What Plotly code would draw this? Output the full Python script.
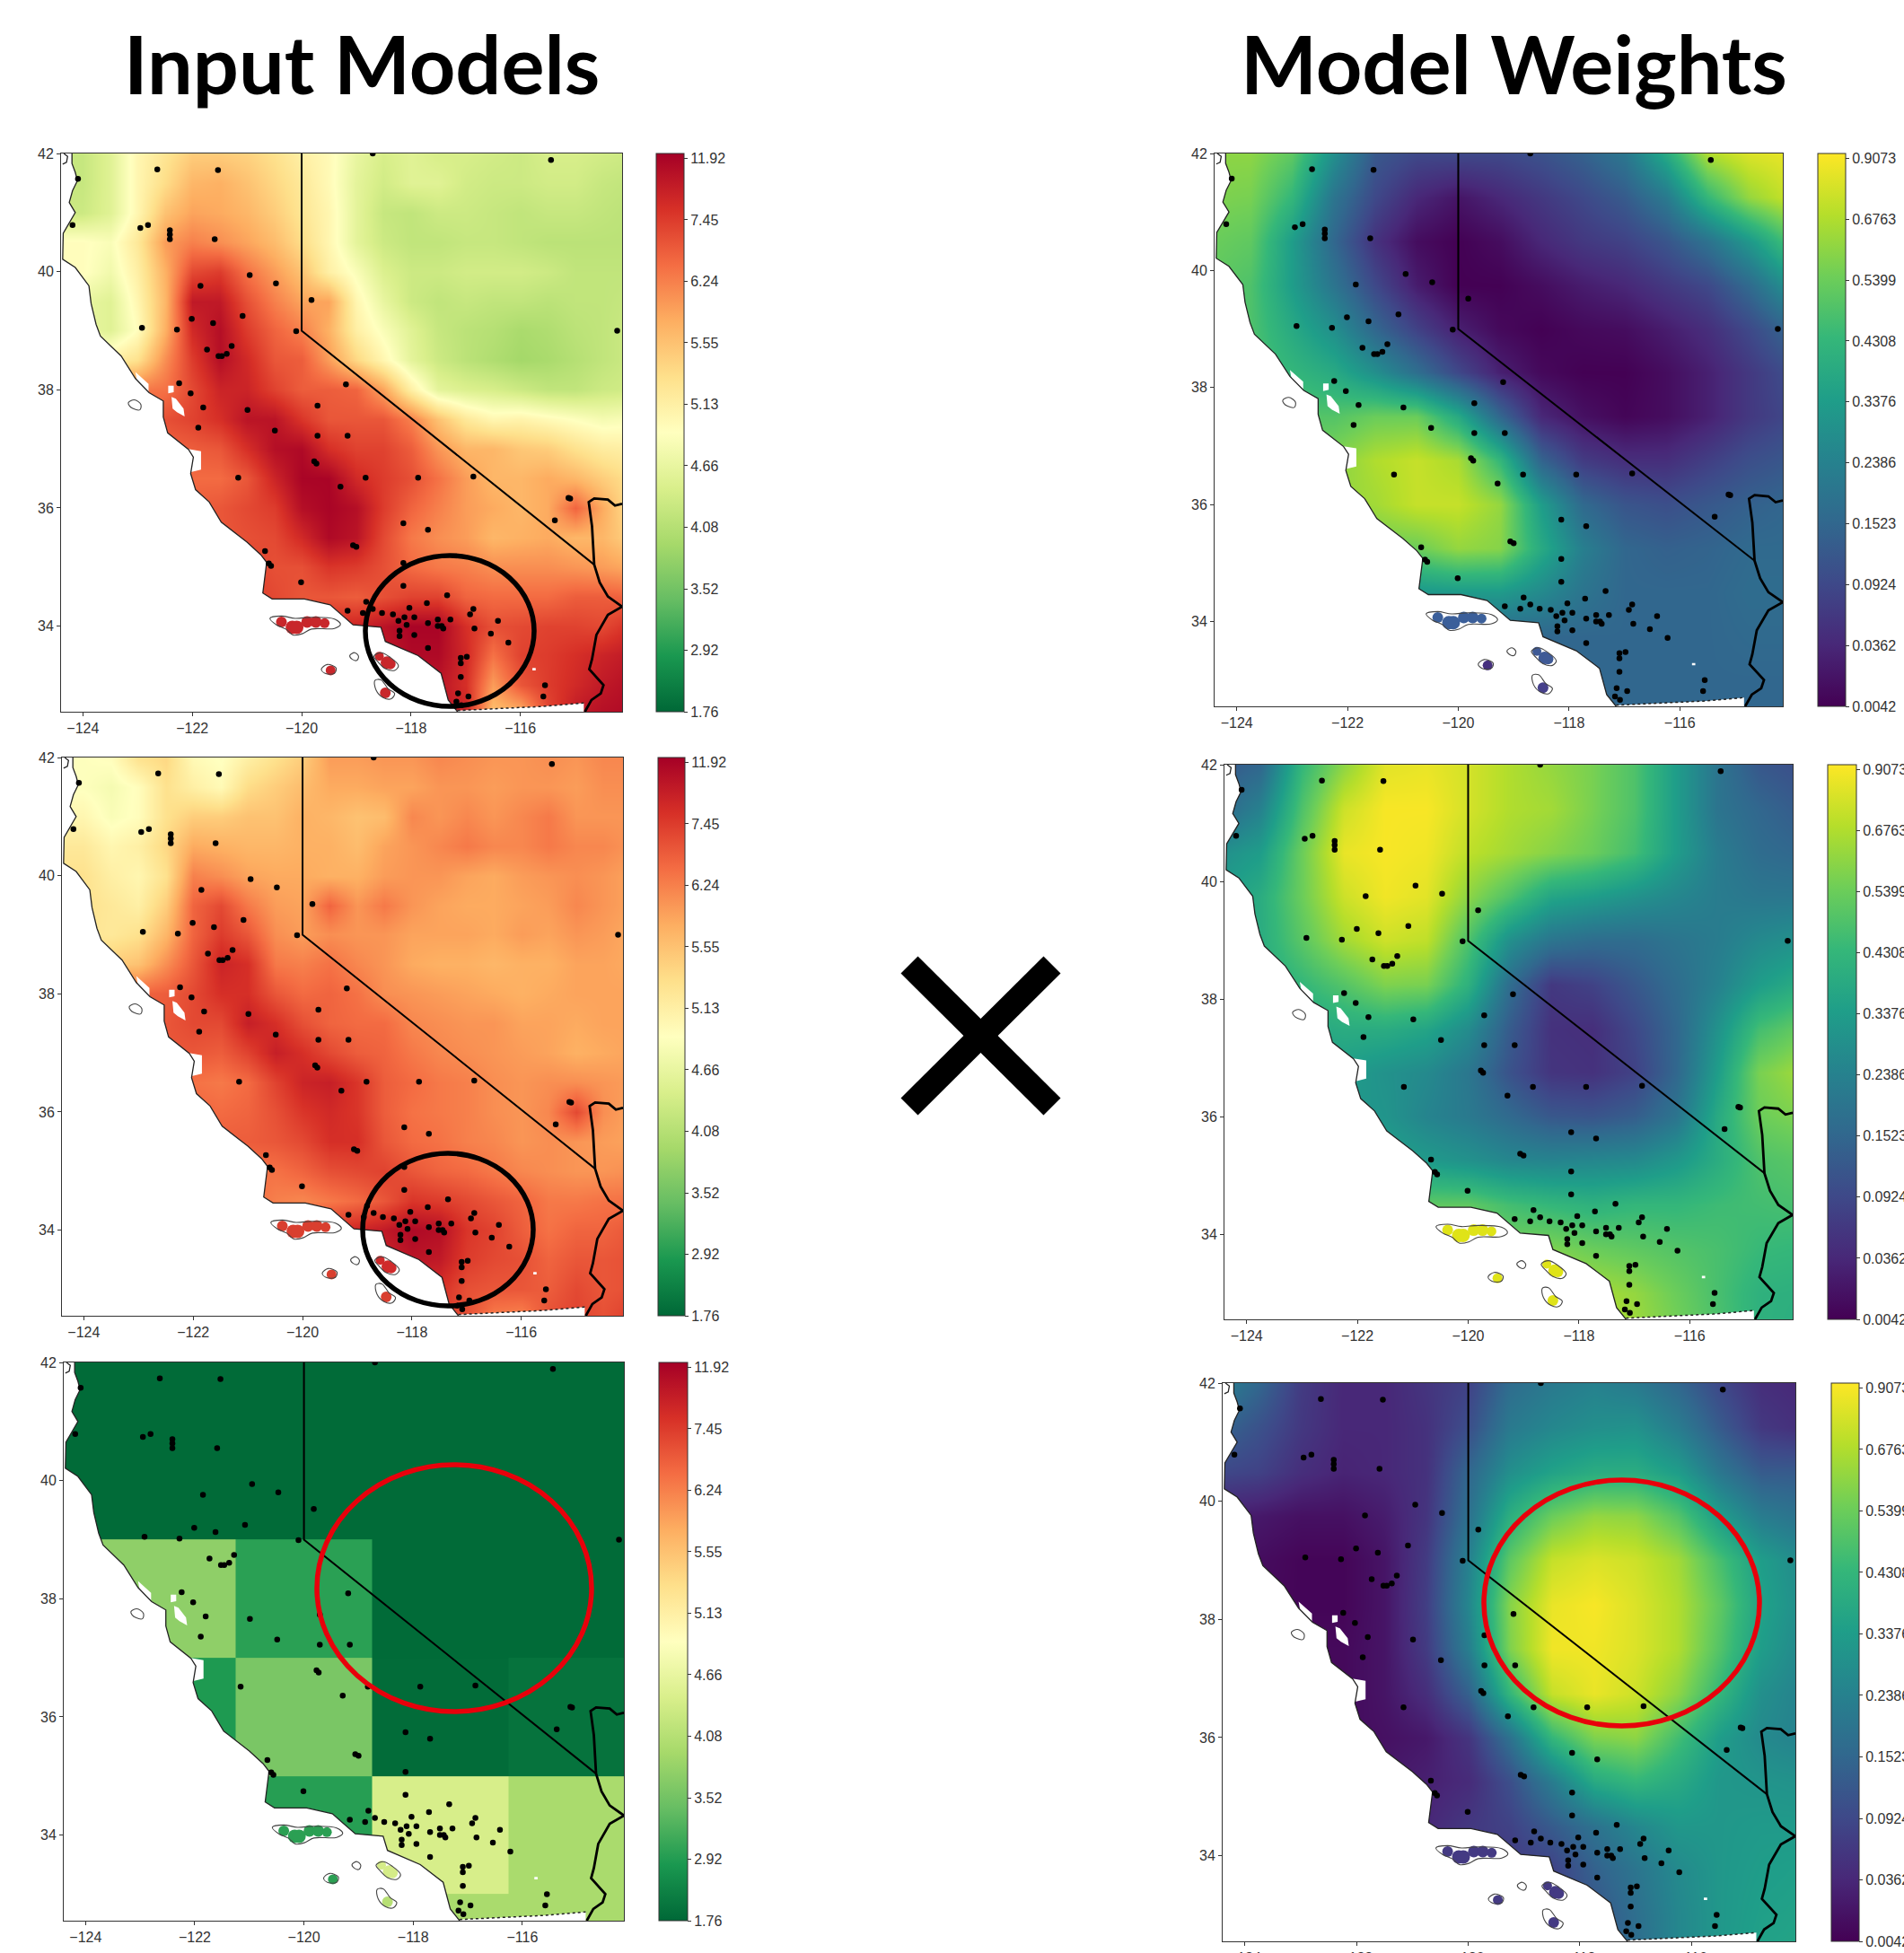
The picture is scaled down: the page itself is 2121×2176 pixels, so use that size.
import plotly.graph_objects as go

W, H = 2121, 2176

# ---------- shared geography (degrees) ----------
STATION_LON = [-122.64,-121.53,-115.44,-118.70,-124.09,-124.19,-122.95,-122.81,-122.41,-122.41,-122.41,-121.59,-120.95,-120.47,-121.85,-119.82,-122.01,-121.62,-121.08,-122.92,-122.28,-120.10,-114.23,-121.28,-121.73,-121.37,-121.46,-121.52,-122.24,-122.03,-119.19,-121.80,-120.99,-119.71,-121.89,-120.49,-119.71,-119.16,-119.77,-119.73,-121.16,-118.83,-117.87,-116.86,-119.29,-115.12,-115.09,-115.37,-118.14,-117.69,-119.06,-119.00,-120.67,-120.60,-120.56,-118.14,-120.01,-118.14,-117.34,-118.82,-117.71,-118.70,-119.16,-118.03,-116.86,-116.92,-118.88,-118.53,-118.33,-118.12,-117.94,-118.23,-117.51,-117.28,-116.41,-117.69,-118.08,-117.51,-117.44,-117.41,-116.84,-118.21,-118.21,-117.94,-116.54,-116.22,-117.69,-116.98,-117.09,-117.09,-117.09,-115.55,-117.14,-116.95,-115.58,-117.17,-117.08]
STATION_LAT = [41.73,41.72,41.89,42.0,41.57,40.79,40.74,40.79,40.70,40.63,40.55,40.55,39.94,39.80,39.76,39.52,39.20,39.13,39.25,39.05,39.02,38.99,39.0,38.74,38.68,38.61,38.57,38.57,38.11,37.94,38.09,37.70,37.66,37.73,37.36,37.31,37.22,37.22,36.79,36.75,36.51,36.51,36.51,36.53,36.36,36.17,36.16,35.79,35.74,35.63,35.37,35.34,35.27,35.06,35.02,35.07,34.74,34.68,34.52,34.41,34.39,34.29,34.26,34.31,34.29,34.20,34.22,34.22,34.20,34.15,34.15,34.09,34.11,34.11,34.09,34.05,34.02,34.0,34.0,33.96,33.96,33.92,33.83,33.85,33.87,33.72,33.63,33.48,33.46,33.37,33.14,33.0,32.86,32.81,32.81,32.72,32.66]

COAST_LON = [-124.2,-124.2,-124.14,-124.10,-124.19,-124.25,-124.14,-124.25,-124.36,-124.37,-124.14,-123.89,-123.85,-123.76,-123.68,-123.30,-123.04,-122.79,-122.53,-122.53,-122.45,-122.07,-121.98,-122.03,-121.94,-121.69,-121.47,-121.0,-120.75,-120.64,-120.71,-120.54,-119.95,-119.48,-119.06,-118.55,-118.47,-117.87,-117.45,-117.32,-117.15]
COAST_LAT = [42.0,41.83,41.68,41.54,41.37,41.17,41.0,40.82,40.65,40.21,40.07,39.76,39.46,39.11,38.91,38.57,38.19,37.95,37.81,37.54,37.27,36.99,36.86,36.58,36.31,36.10,35.76,35.42,35.21,35.08,34.56,34.46,34.46,34.36,34.02,33.98,33.74,33.50,33.20,32.75,32.55]
NOTCH_LON = [-124.35,-124.28,-124.3,-124.37]
NOTCH_LAT = [42.0,41.95,41.85,41.82]
MEXICO_LON = [-117.15,-115.58,-114.84]
MEXICO_LAT = [32.57,32.64,32.70]
NV_LON = [-120,-120,-114.65]
NV_LAT = [42,39,35.04]
RIVER_LON = [-114.14,-114.27,-114.40,-114.65,-114.75,-114.69,-114.65,-114.55,-114.40,-114.14,-114.40,-114.61,-114.69,-114.74,-114.48,-114.53,-114.70,-114.82]
RIVER_LAT = [36.07,36.04,36.14,36.16,36.10,35.69,35.04,34.74,34.50,34.33,34.19,33.85,33.44,33.27,33.0,32.86,32.75,32.55]

# white holes in the data mask
HOLE_LON = [-122.44,-122.34,-122.34,-122.44,None,-122.38,-122.30,-122.16,-122.14,-122.28,-122.36,None,-122.1,-121.84,-121.84,-122.06,None,-123.04,-122.8,-122.8,-123.0,None,-115.78,-115.72,-115.72,-115.78]
HOLE_LAT = [38.07,38.07,37.96,37.94,None,37.88,37.85,37.68,37.55,37.62,37.68,None,37.0,36.96,36.65,36.6,None,38.3,38.1,37.95,38.1,None,33.29,33.29,33.25,33.25]

ISLE_OUT_LON = [-120.58,-120.37,-120.12,-119.82,-119.40,-119.29,-119.40,-119.82,-119.99,-120.16,-120.29,-120.46,-120.58,None,
                -118.68,-118.55,-118.38,-118.23,-118.30,-118.47,-118.59,-118.68,None,
                -119.64,-119.53,-119.37,-119.40,-119.57,-119.64,None,
                -119.12,-119.03,-118.96,-118.99,-119.08,-119.12,None,
                -118.66,-118.55,-118.42,-118.30,-118.36,-118.51,-118.64,-118.66,None,
                -123.17,-123.06,-122.94,-122.96,-123.08,-123.15,-123.17]
ISLE_OUT_LAT = [34.13,34.17,34.13,34.15,34.12,34.03,33.96,33.95,33.87,33.85,33.95,34.02,34.13,None,
                33.49,33.55,33.47,33.33,33.25,33.28,33.38,33.49,None,
                33.27,33.35,33.29,33.20,33.20,33.27,None,
                33.50,33.55,33.49,33.42,33.44,33.50,None,
                33.08,33.09,32.94,32.86,32.77,32.79,32.92,33.08,None,
                37.78,37.83,37.75,37.66,37.68,37.73,37.78]
# land pixels on the islands: 0-5 channel islands, 6-8 Catalina, 9 Santa Barbara, 10 San Clemente
ISLE_LON = [-120.37,-120.17,-120.09,-119.90,-119.74,-119.58,-118.58,-118.44,-118.38,-119.47,-118.47]
ISLE_LAT = [34.07,33.98,33.98,34.07,34.07,34.05,33.49,33.38,33.36,33.25,32.87]

# ---------- colour-bar tick labels ----------
RAIN_TICKS = ["1.76","2.92","3.52","4.08","4.66","5.13","5.55","6.24","7.45","11.92"]
WEIGHT_TICKS = ["0.0042","0.0362","0.0924","0.1523","0.2386","0.3376","0.4308","0.5399","0.6763","0.9073"]

# ---------- fields, given as colour-bar rank (0 = lowest tick, 9 = top tick) ----------
FINE_LON = [-124.5,-124,-123.5,-123,-122.5,-122,-121.5,-121,-120.5,-120,-119.5,-119,-118.5,-118,-117.5,-117,-116.5,-116,-115.5,-115,-114.5,-114]
FINE_LAT = [42,41.5,41,40.5,40,39.5,39,38.5,38,37.5,37,36.5,36,35.5,35,34.5,34,33.5,33,32.5]
MODEL_1 = [
[3.3,3.3,3.8,4.8,5.3,5.8,5.8,5.7,5.4,5,4.7,4,3.6,3.8,3.6,3.6,3.5,3.4,3.6,3.6,3.5,3.4],
[3.3,3.3,3.8,4.8,5.5,6.2,6.3,6,5.6,5.2,4.7,3.9,3.5,3.8,3.8,3.5,3.4,3.4,3.5,3.5,3.3,3.2],
[3.4,3.4,3.8,4.8,6,6.5,6.4,6.2,5.8,5.3,4.8,3.9,3.3,3.2,3.4,3.4,3.3,3.2,3.3,3.3,3.2,3.1],
[4.6,4.6,4.4,5.2,6.6,7,6.8,6.5,6.1,5.5,4.8,3.9,3.4,3.2,3.2,3.3,3.3,3.2,3.1,3.1,3.1,3.1],
[4.6,4.6,4.2,5,6.3,7.8,8,7.2,6.6,6,5,4.4,3.7,3.4,3.4,3.5,3.5,3.5,3.4,3.2,3.2,3.2],
[4,4,3.8,4.8,6.2,8.6,8.6,7.7,7,6.5,6.5,4.8,4,3.4,3.2,3.3,3.2,3.2,3.1,3.2,3.2,3.3],
[4,4,3.8,4.6,6.3,8.3,8.8,8,7.4,7,6.3,5,4.4,3.8,3.3,3.1,3,2.8,2.9,3.1,3.2,3.4],
[5,5,5,5.4,6.8,8,8.8,8.3,7.6,7.5,6.6,5.6,4.8,3.9,3.4,3.1,2.9,2.7,2.8,3,3.2,3.4],
[6.7,6.7,7,7.1,7.2,7.8,8.4,8.4,7.9,7.5,7.5,7.4,6.5,5,3.9,3.7,3.6,3.4,3.2,3.2,3.4,3.5],
[7.5,7.5,7.5,7.6,7.7,7.9,8.2,8.7,8.7,8.1,7.6,7.6,7.6,7,6,5.2,4.8,4.9,4.7,4.5,4.3,4.4],
[7,7,7,7.2,7.4,7.5,7.6,8.2,8.8,8.9,8.2,7.9,7.9,7.5,6.7,6.2,6.2,5.9,5.8,5.4,5.1,5],
[7.2,7.2,7.2,7.2,7.3,7.3,7.3,7.6,8.4,9,9,8.3,8,7.7,7.2,6.6,6.2,6.2,6.4,6.2,5.8,5.4],
[7.5,7.5,7.5,7.5,7.5,7.5,7.6,7.8,8,8.8,9,8.8,8,7.4,7,6.6,6.4,6.2,6.4,7.4,6.4,5.4],
[7.6,7.6,7.6,7.6,7.6,7.6,7.6,7.7,7.8,8.3,8.9,8.7,7.8,7.1,6.8,6.6,6.2,6.3,6.4,6.2,6.2,5.7],
[7.8,7.8,7.8,7.8,7.8,7.8,7.8,7.9,7.7,7.7,8.1,8,7.7,7.3,7.1,7,6.8,6.8,6.8,6.7,6.6,6.4],
[8,8,8,8,8,8,8,8,7.8,7.6,7.6,7.5,7.7,7.9,7.9,7.4,7.3,7.3,7.3,7.5,7.5,7.4],
[8.2,8.2,8.2,8.2,8.2,8.2,8.2,8.2,8.2,8.2,8.3,8.4,8.7,9,9,8.2,7.7,7.8,7.9,7.9,7.8,8.2],
[8.3,8.3,8.3,8.3,8.3,8.3,8.3,8.3,8.3,8.3,8.3,8.5,8.6,8.9,8.9,8.3,7.2,7.9,8,8.2,8.4,8.6],
[8.3,8.3,8.3,8.3,8.3,8.3,8.3,8.3,8.3,8.3,8.3,8.4,8.5,8.6,8.7,8.2,6.6,7.6,8,8.3,8.6,8.8],
[8.3,8.3,8.3,8.3,8.3,8.3,8.3,8.3,8.3,8.3,8.3,8.4,8.5,8.6,8.7,8.4,6,6.2,7.8,8.6,8.8,8.9],
]
MODEL_2 = [
[4.5,4.5,4.6,5.4,5.6,4.7,4.5,5,5.4,5.8,6.6,6.6,6.7,6.7,6.9,6.8,6.7,6.7,6.8,6.7,6.9,6.9],
[4.5,4.5,4.3,4.6,5.4,5,4.7,5.5,5.8,6.1,6.4,6.4,6.5,6.5,6.7,6.7,6.6,6.7,6.7,6.6,6.8,6.8],
[4.8,4.8,4.4,4.6,5.4,5.8,5.8,6,6,6.3,6.2,6,6.1,6.9,6.7,6.9,6.7,6.9,7.1,6.7,6.7,6.7],
[5.2,5.2,4.8,5,5.6,6.4,6.3,6.2,6.2,6.3,6.3,6.1,6.5,6.7,6.9,7.1,6.9,6.9,7.1,6.9,6.9,6.7],
[5.4,5.4,5,4.8,5.4,7,6.8,6.5,6.4,6.4,6.3,6.3,6.6,6.7,6.7,6.5,6.4,6.6,6.7,6.8,6.7,6.5],
[5.4,5.4,5.2,5,5.8,7.4,7.8,7.1,6.6,6.5,7.4,6.7,7.1,6.7,6.5,6.4,6.4,6.5,6.6,6.9,6.7,6.5],
[5.3,5.3,5.2,5.4,6.2,7.4,8,7.6,6.8,6.6,6.8,6.7,6.7,6.5,6.5,6.5,6.4,6.6,6.5,6.7,6.6,6.4],
[5.8,5.8,5.8,6,6.8,7.6,8.4,8.2,7.1,7,7.2,6.9,6.7,6.4,6.3,6.3,6.2,6.3,6.3,6.5,6.5,6.4],
[7.4,7.4,7.4,7.4,7.5,7.8,8.2,8.2,7.6,7.3,7.4,7.2,6.8,6.7,6.6,6.5,6.4,6.3,6.4,6.5,6.5,6.5],
[7.5,7.5,7.5,7.5,7.6,7.8,7.8,8.5,8.2,7.7,7.4,7.3,7.3,6.9,6.8,6.7,6.7,6.5,6.5,6.4,6.5,6.5],
[7.5,7.5,7.5,7.5,7.6,7.6,7.5,7.9,8.5,8.2,7.8,7.5,7.4,7.1,6.9,6.8,6.7,6.6,6.5,6.3,6.4,6.5],
[7.2,7.2,7.2,7.2,7.2,7.2,7.1,7.3,7.9,8.4,8.5,8.1,7.5,7.3,7.1,7,6.8,6.7,6.8,6.8,6.7,6.6],
[7.4,7.4,7.4,7.4,7.4,7.4,7.3,7.4,7.7,8.1,8.3,8.1,7.5,7.2,7.1,7,6.8,6.7,6.9,7.8,6.8,6.5],
[7.5,7.5,7.5,7.5,7.5,7.5,7.5,7.5,7.6,7.8,8.2,8.2,7.6,7.3,7.2,7,6.9,6.7,6.8,6.7,6.6,6.5],
[7.2,7.2,7.2,7.2,7.2,7.2,7.2,7.2,7.2,7.4,7.7,7.8,7.9,7.6,7.4,7.3,7.1,6.9,6.8,6.7,6.7,6.8],
[7.3,7.3,7.3,7.3,7.3,7.3,7.3,7.3,7,6.9,7.1,7.3,7.6,8.1,8,7.8,7.6,7.4,7.1,7.1,7.2,7.2],
[8,8,8,8,8,8,8,8,8,8.2,8.2,8.4,8.6,8.9,8.8,8.1,7.9,7.5,7.2,7.4,7.4,7.6],
[8,8,8,8,8,8,8,8,8,8,8,8.2,8.4,8.7,8.6,8,7.8,7.7,7.4,7.6,7.6,7.7],
[8,8,8,8,8,8,8,8,8,8,8,8,8,8.2,8.2,7.7,7.6,7.6,7.5,7.8,7.6,7.7],
[8,8,8,8,8,8,8,8,8,8,8,8,8,8,8,7.7,7,6.9,7.7,7.9,7.7,8],
]
BLOCK_LON = [-126.25,-123.75,-121.25,-118.75,-116.25,-113.75]
BLOCK_LAT = [42.5,39,37,35,33,31]
MODEL_3 = [
[0.05,0.05,0.05,0.05,0.05],
[2.4,2.4,1.1,0.05,0.05],
[0.95,0.95,2.1,0.08,0.2],
[1.05,1.05,1.05,3.6,2.8],
[2.8,2.8,2.8,2.8,2.8],
]
WEIGHT_LON = [-124.5,-123.75,-123,-122.25,-121.5,-120.75,-120,-119.25,-118.5,-117.75,-117,-116.25,-115.5,-114.75,-114]
WEIGHT_LAT = [42,41.25,40.5,39.75,39,38.25,37.5,36.75,36,35.25,34.5,33.75,33,32.25]
WEIGHT_1 = [
[7.5,7.5,6.8,4.5,2.5,2,2,2,2.3,2.8,3.6,5.5,8,8.6,8.8],
[7.3,7.2,6,3.5,2,1,.5,1,1.5,2,2.6,3.7,6,7.6,8.4],
[7,6.8,5,3,1.3,.3,0,.3,1,1.5,1.8,2.4,3.4,4.8,6.5],
[6.8,6.5,5,3.5,2,.7,0,0,.3,.7,1,1.5,2,3.1,4.7],
[6.5,6.5,5.5,4.5,3,1.8,.8,.2,0,.2,.3,.7,1.2,2,3],
[6.5,6.5,6,5.5,4.5,3.3,2,.8,.2,0,0,.3,.8,1.5,2.2],
[6.6,6.6,6.6,6.6,7,7,5.5,3,1,.4,.1,.3,.8,1.5,2],
[7,7,7,7.4,8,8.3,7.9,6,2.9,1.6,1.2,1.2,1.7,2.2,2.5],
[7.5,7.5,7.5,7.6,7.8,8.3,8.3,7.6,5,3.1,2.4,2.2,2.5,2.8,3],
[7,7,7,7,7,7,7.6,7.4,5.5,3.9,3,2.8,2.9,3.1,3.1],
[4.8,4.8,4.8,4.8,4.8,4.8,4.9,4.9,4.3,3.5,3,3,3,3.2,3.2],
[3,3,3,3,3,3,3,3,3,3,3,3,3,3.1,3.1],
[3,3,3,3,3,3,3,3,3,3,3,3,3,3,3],
[3,3,3,3,3,3,3,3,3,3,3,3,3,3,3],
]
WEIGHT_2 = [
[2.5,3,6,7.5,8.7,8.8,8.5,8,7.6,7.2,6.5,5,3.5,2.5,2.2],
[3,4,6.5,8.4,9,9,8.5,8,7.8,7.2,6.5,5,3.5,3,2.6],
[4.5,5,7,8.8,9,8.9,8.2,7.8,7.4,7,6.3,5,3.8,3.2,3],
[5,5.6,7,8.4,8.9,8.7,7.5,6.5,5.3,5,4.6,4.2,3.8,3.6,3.6],
[5.5,5.6,6.7,7.8,8.4,8.2,6.5,4.5,3.5,3.2,3.2,3.5,3.8,4.3,4.6],
[5.5,5.6,6,6.6,7.3,7.2,5.8,3.2,1.5,1.8,2.5,3.2,4,5,5.6],
[5.3,5.3,5.4,5.6,5.6,5.3,4.4,2.6,1.3,1.2,2,3,4.6,6.3,6.9],
[5,5,5,5,4.6,4.3,3.6,2.3,1.4,1.3,1.8,3,5,7.2,7.8],
[4.8,4.8,4.8,4.8,4.7,4.1,3.7,3.1,2.5,2.4,2.7,3.5,5.5,7,7.3],
[5,5,5,5,5.2,4.9,4.6,4.2,4.1,4.2,4.3,4.8,5.6,6.5,6.7],
[6,6,6,6,6,6.8,6.8,6.3,6,5.8,6,6,6.2,6.3,6.4],
[7,7,7,7,7,7.4,7.5,7.2,7.3,7,6.8,6.6,6.4,6.1,6],
[8,8,8,8,8,8,8,8,8,7.9,7.6,7,6.4,5.8,5.7],
[8,8,8,8,8,8,8.2,8.2,8.2,8.2,7.8,7.2,6.5,5.8,5.6],
]
WEIGHT_3 = [
[4,3,1.6,1,1,1.4,1.8,3.2,3.7,4,3.7,3,2,1.2,1],
[3,2.3,1.5,1,1,1.3,2.2,3.7,4.2,4.5,4.6,3.8,2.6,1.5,1.2],
[2,1.8,1.2,.9,1,1.3,3,4.5,5.2,5.6,5.6,5,3.6,2.6,2.6],
[.8,.6,.4,.4,.7,1.4,3.4,5.7,7,7.6,7.5,6.6,5,3.8,3.4],
[.5,.3,.1,.1,.5,1.6,4,6.8,8.3,8.6,8.4,7.8,6.4,5,4.3],
[.3,.2,.1,.1,.5,1.7,4.2,7.4,8.8,9,8.6,8,6.8,5.2,4.4],
[.4,.3,.2,.2,.5,1.6,3.9,7.3,8.9,8.9,8.6,8,6.6,5,4.2],
[.5,.4,.3,.2,.5,1.2,2.8,6,8.3,8.8,8.4,7.5,6,4.5,4],
[.5,.5,.4,.3,.4,.6,1.4,3.4,6,7.3,7.5,6.3,5,4.3,4],
[.6,.6,.6,.6,.6,.8,1.1,2.2,3.8,5.5,6,5.5,4.8,4.7,4.6],
[1,1,1,1,1,1,1.5,1.8,2.6,3.4,4.2,4.8,4.8,4.9,4.9],
[1.5,1.5,1.5,1.5,1.5,1.5,1.6,1.6,1.8,2.8,3.5,4.3,4.8,5,5.1],
[2,2,2,2,2,2,2,2,2,2.4,3.3,4.2,4.8,5.1,5.2],
[2,2,2,2,2,2,2,2,2.2,2.4,3.2,4.2,4.8,5.2,5.3],
]

ISLE_COLORS_M1 = ["#c8272b"]*11
ISLE_COLORS_M2 = ["#d93f2f"]*6 + ["#d02a2b"]*3 + ["#d93f2f","#d93f2f"]
ISLE_COLORS_M3 = ["#2b9f53"]*6 + ["#d5ec88"]*3 + ["#2b9f53","#b7df75"]
ISLE_COLORS_W1 = ["#3b5f9a"]*6 + ["#3f5a96"]*3 + ["#46307e","#46408a"]
ISLE_COLORS_W2 = ["#dfe318"]*11
ISLE_COLORS_W3 = ["#443a83"]*11

AX_FONT = dict(family="Liberation Sans", size=16, color="#333333")

PANELS = [
    dict(name="m1", box=(68,693,171,793),    bar=(731,762),   z=MODEL_1,  x=FINE_LON,  y=FINE_LAT,  cs="RdYlGn_r", ticks=RAIN_TICKS,   smooth="best", isle=ISLE_COLORS_M1),
    dict(name="m2", box=(69,694,844,1466),   bar=(733,763),   z=MODEL_2,  x=FINE_LON,  y=FINE_LAT,  cs="RdYlGn_r", ticks=RAIN_TICKS,   smooth="best", isle=ISLE_COLORS_M2),
    dict(name="m3", box=(71,695,1518,2140),  bar=(734,766),   z=MODEL_3,  x=BLOCK_LON, y=BLOCK_LAT, cs="RdYlGn_r", ticks=RAIN_TICKS,   smooth=False,  isle=ISLE_COLORS_M3),
    dict(name="w1", box=(1353,1986,171,787), bar=(2025,2056), z=WEIGHT_1, x=WEIGHT_LON,y=WEIGHT_LAT,cs="Viridis",  ticks=WEIGHT_TICKS, smooth="best", isle=ISLE_COLORS_W1),
    dict(name="w2", box=(1364,1997,852,1470),bar=(2036,2068), z=WEIGHT_2, x=WEIGHT_LON,y=WEIGHT_LAT,cs="Viridis",  ticks=WEIGHT_TICKS, smooth="best", isle=ISLE_COLORS_W2),
    dict(name="w3", box=(1362,2000,1541,2163),bar=(2040,2071),z=WEIGHT_3, x=WEIGHT_LON,y=WEIGHT_LAT,cs="Viridis",  ticks=WEIGHT_TICKS, smooth="best", isle=ISLE_COLORS_W3),
]

fig = go.Figure()
layout = {}
ocean_lon = COAST_LON + MEXICO_LON + [-114.84,-125,-125,-124.2]
ocean_lat = COAST_LAT + MEXICO_LAT + [32.3,32.3,42.2,42.2]

for i, p in enumerate(PANELS):
    n = "" if i == 0 else str(i+1)
    xa, ya = "x"+n, "y"+n
    x0, x1, y0, y1 = p["box"]
    layout["xaxis"+n] = dict(domain=[x0/W, x1/W], range=[-124.4,-114.14], anchor=ya, tickmode="array",
        tickvals=[-124,-122,-120,-118,-116], ticks="outside", ticklen=4, tickcolor="#333", tickfont=AX_FONT,
        showgrid=False, zeroline=False, showline=True, linecolor="#333", linewidth=1, mirror=True)
    layout["yaxis"+n] = dict(domain=[1-y1/H, 1-y0/H], range=[32.55,42], anchor=xa, tickmode="array",
        tickvals=[34,36,38,40,42], ticks="outside", ticklen=4, tickcolor="#333", tickfont=AX_FONT,
        showgrid=False, zeroline=False, showline=True, linecolor="#333", linewidth=1, mirror=True)
    fig.add_trace(go.Heatmap(z=p["z"][::-1], x=p["x"], y=p["y"][::-1], xaxis=xa, yaxis=ya,
        colorscale=p["cs"], zmin=0, zmax=9.08, zsmooth=p["smooth"],
        colorbar=dict(x=p["bar"][0]/W, xanchor="left", xpad=0, y=1-y0/H, yanchor="top", ypad=0,
            lenmode="pixels", len=y1-y0, thicknessmode="pixels", thickness=p["bar"][1]-p["bar"][0],
            tickmode="array", tickvals=list(range(10)), ticktext=p["ticks"], ticks="outside", ticklen=4,
            tickcolor="#333", tickfont=AX_FONT, outlinecolor="#333", outlinewidth=1)))
    fig.add_trace(go.Scatter(x=ocean_lon, y=ocean_lat, xaxis=xa, yaxis=ya, mode="none", fill="toself", fillcolor="white"))
    fig.add_trace(go.Scatter(x=HOLE_LON, y=HOLE_LAT, xaxis=xa, yaxis=ya, mode="none", fill="toself", fillcolor="white"))
    fig.add_trace(go.Scatter(x=ISLE_LON, y=ISLE_LAT, xaxis=xa, yaxis=ya, mode="markers",
        marker=dict(size=[12,15,15,13,13,11,10,14,12,11,12], color=p["isle"], opacity=1, line=dict(width=0))))
    fig.add_trace(go.Scatter(x=ISLE_OUT_LON, y=ISLE_OUT_LAT, xaxis=xa, yaxis=ya, mode="lines",
        line=dict(color="#444444", width=1.1, shape="spline")))
    fig.add_trace(go.Scatter(x=COAST_LON+[None]+NOTCH_LON, y=COAST_LAT+[None]+NOTCH_LAT, xaxis=xa, yaxis=ya, mode="lines",
        line=dict(color="#222222", width=1.3)))
    fig.add_trace(go.Scatter(x=MEXICO_LON, y=MEXICO_LAT, xaxis=xa, yaxis=ya, mode="lines",
        line=dict(color="#222222", width=1.5, dash="dot")))
    fig.add_trace(go.Scatter(x=NV_LON, y=NV_LAT, xaxis=xa, yaxis=ya, mode="lines",
        line=dict(color="black", width=2)))
    fig.add_trace(go.Scatter(x=RIVER_LON, y=RIVER_LAT, xaxis=xa, yaxis=ya, mode="lines",
        line=dict(color="black", width=2.8)))
    fig.add_trace(go.Scatter(x=STATION_LON, y=STATION_LAT, xaxis=xa, yaxis=ya, mode="markers",
        marker=dict(size=6.5, color="black", line=dict(width=0))))

def px(x): return x/W
def py(y): return 1-y/H

def ring(x0, x1, y0, y1, color, width):
    return dict(type="circle", xref="paper", yref="paper", x0=px(x0), x1=px(x1), y0=py(y1), y1=py(y0),
                line=dict(color=color, width=width))

shapes = [
    ring(407,595,619,787,"black",5.5),
    ring(404,594,1285,1455,"black",5.5),
    ring(353,659,1632,1907,"#e8000b",5.5),
    ring(1653,1960,1649,1923,"#e8000b",5.5),
    dict(type="line", xref="paper", yref="paper", x0=px(1013), x1=px(1172), y0=py(1075), y1=py(1233), line=dict(color="black", width=27)),
    dict(type="line", xref="paper", yref="paper", x0=px(1172), x1=px(1013), y0=py(1075), y1=py(1233), line=dict(color="black", width=27)),
]
annotations = [
    dict(text="<b>Input Models</b>", x=px(403), y=py(70), xref="paper", yref="paper", showarrow=False,
         xanchor="center", yanchor="middle", font=dict(family="Lato", size=90, color="black")),
    dict(text="<b>Model Weights</b>", x=px(1686), y=py(70), xref="paper", yref="paper", showarrow=False,
         xanchor="center", yanchor="middle", font=dict(family="Lato", size=90, color="black")),
]

fig.update_layout(width=W, height=H, margin=dict(l=0,r=0,t=0,b=0,autoexpand=False), paper_bgcolor="white", plot_bgcolor="white",
                  showlegend=False, shapes=shapes, annotations=annotations, **layout)
fig.write_html("out.html", config={"displayModeBar": False},
               post_script="document.body.style.margin='0';document.documentElement.style.overflow='hidden';")
